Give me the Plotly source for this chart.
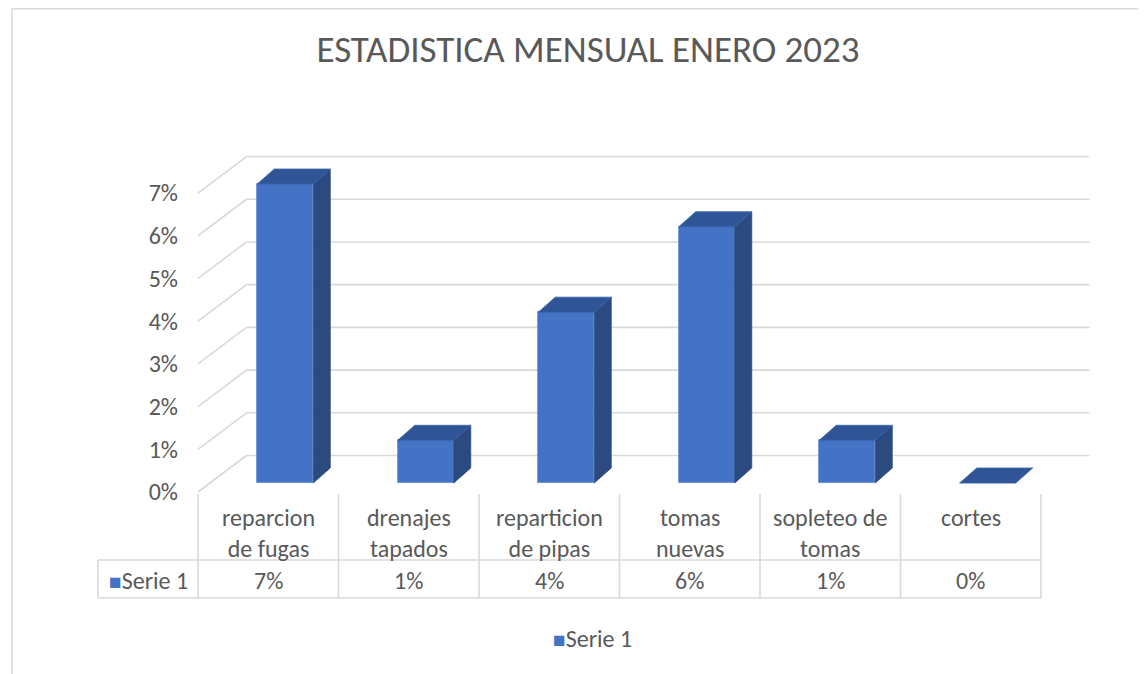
import plotly.graph_objects as go

# ---------------- data ----------------
categories = ["reparcion<br>de fugas", "drenajes<br>tapados", "reparticion<br>de pipas",
              "tomas<br>nuevas", "sopleteo de<br>tomas", "cortes"]
values = [7, 1, 4, 6, 1, 0]          # percent
value_labels = ["7%", "1%", "4%", "6%", "1%", "0%"]
series_name = "Serie 1"
y_ticks = [0, 1, 2, 3, 4, 5, 6, 7]
y_ticktext = ["0%", "1%", "2%", "3%", "4%", "5%", "6%", "7%"]
title_text = "ESTADISTICA MENSUAL ENERO 2023"

# ---------------- styling / geometry ----------------
OFF = 8                      # default page body margin
W, H = 1146 - OFF, 674 - OFF
FRONT_LEFT_PX = 198.0 - OFF
PX_PER_CAT = 140.5
ZERO_PX = 492.0 - OFF
PX_PER_PCT = 42.71

FRONT = "#4472C4"
TOP = "#2F5597"
SIDE = "#2B4A7F"
GRID = "#D9D9D9"
TXT = "#595959"
FONT = "Carlito, Lato, sans-serif"
FS = 24

n = len(categories)
x_lo = -0.5
x_hi = n - 0.5
# depth offsets (data units)
BACK_DX = 48.5 / PX_PER_CAT
BACK_DY = 36.5 / PX_PER_PCT
BAR_SHIFT_X = 17.0 / PX_PER_CAT
BAR_BASE = 9.0 / PX_PER_PCT
BAR_W = 56.0 / PX_PER_CAT
BAR_DX = 17.0 / PX_PER_CAT
BAR_DY = 15.0 / PX_PER_PCT

xr = [x_lo - FRONT_LEFT_PX / PX_PER_CAT, x_lo + (W - FRONT_LEFT_PX) / PX_PER_CAT]
yr = [-(H - ZERO_PX) / PX_PER_PCT, ZERO_PX / PX_PER_PCT]

def py(px):  # reference pixel row -> data y
    return (ZERO_PX - (px - OFF)) / PX_PER_PCT

def pxx(px):  # reference pixel col -> data x
    return x_lo + ((px - OFF) - FRONT_LEFT_PX) / PX_PER_CAT

fig = go.Figure()

shapes = []
# back wall + side wall gridlines
for v in y_ticks:
    shapes.append(dict(type="line", xref="x", yref="y", layer="below",
                       x0=x_lo + BACK_DX, y0=v + BACK_DY, x1=x_hi + BACK_DX, y1=v + BACK_DY,
                       line=dict(color=GRID, width=1.6)))
    shapes.append(dict(type="line", xref="x", yref="y", layer="below",
                       x0=x_lo, y0=v, x1=x_lo + BACK_DX, y1=v + BACK_DY,
                       line=dict(color=GRID, width=1.6)))

# front faces of bars
xs = [i + BAR_SHIFT_X for i in range(n)]
fig.add_trace(go.Bar(x=xs, y=values, base=[BAR_BASE] * n, width=BAR_W,
                     marker=dict(color=FRONT, line=dict(color="#5F8AD6", width=0.8)),
                     name=series_name, showlegend=False, hoverinfo="skip"))

# side and top faces
for i, v in enumerate(values):
    xl = xs[i] - BAR_W / 2
    xrr = xs[i] + BAR_W / 2
    b = BAR_BASE
    t = BAR_BASE + v
    if v > 0:
        fig.add_trace(go.Scatter(
            x=[xrr, xrr + BAR_DX, xrr + BAR_DX, xrr, xrr],
            y=[b, b + BAR_DY, t + BAR_DY, t, b],
            fill="toself", fillcolor=SIDE, mode="lines",
            line=dict(color=SIDE, width=0.8), showlegend=False, hoverinfo="skip"))
    fig.add_trace(go.Scatter(
        x=[xl, xl + BAR_DX, xrr + BAR_DX, xrr, xl],
        y=[t, t + BAR_DY, t + BAR_DY, t, t],
        fill="toself", fillcolor=TOP, mode="lines",
        line=dict(color="#3A62A8", width=0.8), showlegend=False, hoverinfo="skip"))

# data table
tbl_top = py(494)
row_mid = py(560)
tbl_bot = py(598)
serie_left = pxx(98)
for k in range(n + 1):
    shapes.append(dict(type="line", xref="x", yref="y", x0=x_lo + k, x1=x_lo + k,
                       y0=tbl_top, y1=tbl_bot, line=dict(color=GRID, width=1.6)))
shapes.append(dict(type="line", xref="x", yref="y", x0=serie_left, x1=serie_left,
                   y0=row_mid, y1=tbl_bot, line=dict(color=GRID, width=1.6)))
for yy in (row_mid, tbl_bot):
    shapes.append(dict(type="line", xref="x", yref="y", x0=serie_left, x1=x_hi,
                       y0=yy, y1=yy, line=dict(color=GRID, width=1.6)))

# outer chart border (left and top)
shapes.append(dict(type="line", xref="paper", yref="paper", x0=(12 - OFF) / W, x1=(12 - OFF) / W,
                   y0=0, y1=1 - 0.8 / H, line=dict(color=GRID, width=1.5)))
shapes.append(dict(type="line", xref="paper", yref="paper", x0=(12 - OFF) / W, x1=1,
                   y0=1 - 0.8 / H, y1=1 - 0.8 / H, line=dict(color=GRID, width=1.5)))

annotations = []
for i, c in enumerate(categories):
    annotations.append(dict(x=i, y=py(501), xref="x", yref="y", text=c, showarrow=False,
                            yanchor="top", xanchor="center", align="center",
                            font=dict(family=FONT, size=FS, color=TXT)))
    annotations.append(dict(x=i, y=py(580), xref="x", yref="y", text=value_labels[i],
                            showarrow=False, yanchor="middle", xanchor="center",
                            font=dict(family=FONT, size=FS, color=TXT)))
sq = '<span style="color:%s;font-size:21px">■</span>%s' % (FRONT, series_name)
annotations.append(dict(x=(serie_left + x_lo) / 2, y=py(580), xref="x", yref="y",
                        text=sq, showarrow=False, yanchor="middle", xanchor="center",
                        font=dict(family=FONT, size=FS, color=TXT)))
# legend
annotations.append(dict(x=(592 - OFF) / W, y=1 - (638 - OFF) / H, xref="paper", yref="paper",
                        text=sq, showarrow=False, yanchor="middle", xanchor="center",
                        font=dict(family=FONT, size=FS, color=TXT)))

fig.update_layout(
    width=W, height=H,
    margin=dict(l=0, r=0, t=0, b=0),
    paper_bgcolor="white", plot_bgcolor="white",
    title=dict(text=title_text, x=(588 - OFF) / W, xanchor="center",
               y=1 - (49 - OFF) / H, yanchor="middle",
               font=dict(family=FONT, size=37, color=TXT)),
    xaxis=dict(range=xr, domain=[0, 1], visible=False, fixedrange=True),
    yaxis=dict(range=yr, domain=[0, 1], anchor="free", position=FRONT_LEFT_PX / W,
               tickvals=y_ticks, ticktext=y_ticktext, showgrid=False, zeroline=False,
               showline=False, ticks="", ticklabelstandoff=20,
               tickfont=dict(family=FONT, size=FS, color=TXT), fixedrange=True),
    shapes=shapes, annotations=annotations,
    showlegend=False,
    bargap=0,
)

fig.write_html("out.html")
